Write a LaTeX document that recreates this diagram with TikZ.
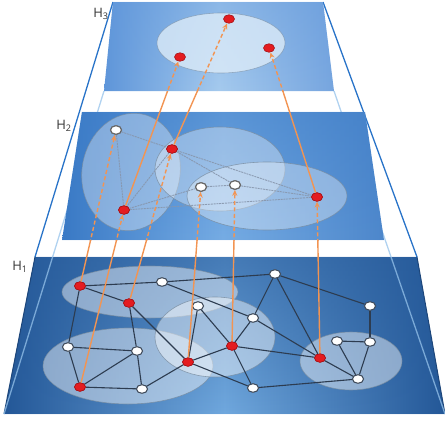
\documentclass[tikz,border=0pt]{standalone}
\usepackage{fontspec}
\setmainfont{Open Sans}
\usetikzlibrary{arrows.meta,calc,shapes.geometric,fadings}
\definecolor{orng}{RGB}{242,148,82}
\definecolor{edgedark}{RGB}{45,60,80}
\definecolor{edgelight}{RGB}{135,150,172}
\definecolor{hadark}{RGB}{36,88,152}
\definecolor{hamid}{RGB}{112,168,222}
\definecolor{hbdark}{RGB}{58,122,198}
\definecolor{hbmid}{RGB}{118,172,228}
\definecolor{hcdark}{RGB}{95,150,218}
\definecolor{hcmid}{RGB}{165,202,238}
\definecolor{framedark}{RGB}{40,115,200}
\definecolor{framelight}{RGB}{150,195,235}
\definecolor{nodered}{RGB}{228,28,32}
\definecolor{noderedd}{RGB}{165,20,25}
\definecolor{nodegray}{RGB}{60,72,88}
\definecolor{ellborder}{RGB}{120,140,160}
\tikzfading[name=fadedown, top color=transparent!0, bottom color=transparent!100]
\begin{document}
\begin{tikzpicture}[x=1pt,y=-1pt,
  rednode/.style={ellipse, inner sep=0pt, minimum width=11pt, minimum height=8.5pt, fill=nodered, draw=noderedd, line width=0.6pt},
  whitenode/.style={ellipse, inner sep=0pt, minimum width=11pt, minimum height=8.5pt, fill=white, draw=nodegray, line width=0.9pt},
  whitenodeb/.style={whitenode, draw=gray!80!black, line width=1.1pt},
  gedge/.style={draw=edgedark, line width=1.1pt},
  hedge/.style={draw=edgelight, line width=0.9pt, opacity=0.9, dash pattern=on 2pt off 0.8pt},
  cluster/.style={fill=white, fill opacity=0.45, draw=ellborder, draw opacity=0.8, line width=0.6pt},
  clusterb/.style={fill=white, fill opacity=0.35, draw=ellborder, draw opacity=0.8, line width=0.6pt},
  orngline/.style={draw=orng, line width=1.4pt},
  orngdashed/.style={draw=orng, line width=1.4pt, dash pattern=on 4pt off 2.5pt, -{Stealth[length=6pt,width=5pt]}},
  lab/.style={text=black!80, font=\fontsize{13}{15}\selectfont, inner sep=0pt},
  frameline/.style={line width=1.3pt}
]
\useasboundingbox (0,0) rectangle (445,421);
% plane corners
\coordinate (c3tl) at (113,2);  \coordinate (c3tr) at (323,2);
\coordinate (c3br) at (334,91); \coordinate (c3bl) at (104,91);
\coordinate (c2tl) at (82,112); \coordinate (c2tr) at (365,112);
\coordinate (c2br) at (384,240); \coordinate (c2bl) at (62,240);
\coordinate (c1tl) at (35,257); \coordinate (c1tr) at (417,257);
\coordinate (c1br) at (445,414); \coordinate (c1bl) at (4,414);
% frustum edges
\draw[frameline, framedark] (c3tl) -- (c1tl);
\draw[frameline, framedark] (c3tr) -- (c1tr);

% ---------------- H1 ----------------
\shade[left color=hadark, right color=hadark, middle color=hamid] (c1tl) -- (c1tr) -- (c1br) -- (c1bl) -- cycle;
\fill[hadark, opacity=0.55, path fading=fadedown] (c1tl) -- (c1tr) -- (c1br) -- (c1bl) -- cycle;
\draw[hadark!80!black, line width=1pt] (c1tl) -- (c1bl);
\draw[hadark!80!black, line width=1pt] (c1tr) -- (c1br);
\draw[white, opacity=0.5, line width=0.6pt] (c1bl) -- (c1br);
\draw[frameline, framelight, opacity=0.75] (c3bl) -- (c1bl);
\draw[frameline, framelight, opacity=0.75] (c3br) -- (c1br);
\draw[cluster] (150,292) ellipse (88 and 26);
\draw[cluster] (128,366) ellipse (85 and 38);
\draw[cluster] (215,337) ellipse (60 and 40);
\draw[cluster] (351,361) ellipse (51 and 29);
\node[lab] (l1) at (20,267) {H\textsubscript{1}};

\node[rednode]   (a1) at (80,286) {};
\node[whitenode] (b1) at (162,282) {};
\node[rednode]   (c1) at (129,303) {};
\node[whitenode] (d1) at (68,347) {};
\node[whitenode] (e1) at (137,351) {};
\node[rednode]   (f1) at (80,387) {};
\node[whitenode] (g1) at (142,389) {};
\node[rednode]   (h1) at (188,362) {};
\node[whitenode] (i1) at (198,306) {};
\node[whitenode] (j1) at (275,274) {};
\node[whitenode] (k1) at (253,318) {};
\node[rednode]   (l1n) at (232,346) {};
\node[whitenode] (m1) at (370,306) {};
\node[whitenode] (n1) at (337,341) {};
\node[whitenode] (o1) at (370,342) {};
\node[rednode]   (p1) at (320,358) {};
\node[whitenode] (q1) at (358,379) {};
\node[whitenode] (r1) at (253,388) {};
\foreach \u/\v in {a1/b1,a1/c1,a1/d1,b1/j1,b1/k1,c1/e1,c1/h1,d1/e1,d1/f1,e1/f1,e1/g1,f1/g1,g1/h1,
  h1/i1,h1/l1n,h1/r1,i1/l1n,k1/l1n,k1/j1,k1/p1,j1/p1,j1/m1,m1/o1,n1/o1,n1/q1,o1/q1,p1/q1,l1n/p1,l1n/r1,r1/q1}
  \draw[gedge] (\u) -- (\v);
% redraw nodes on top of edges
\foreach \n in {a1,c1,f1,h1,l1n,p1}
  \node[rednode] at (\n) {};
\foreach \n in {b1,d1,e1,g1,i1,j1,k1,m1,n1,o1,q1,r1}
  \node[whitenode] at (\n) {};

% ---------------- H2 ----------------
\shade[left color=hbdark, right color=hbdark!90!white, middle color=hbmid] (c2tl) -- (c2tr) -- (c2br) -- (c2bl) -- cycle;
\fill[hbdark, opacity=0.45, path fading=fadedown] (c2tl) -- (c2tr) -- (c2br) -- (c2bl) -- cycle;
\draw[white, opacity=0.5, line width=0.6pt] (c2bl) -- (c2br);
\draw[clusterb, rotate around={-10:(131,172)}] (131,172) ellipse (49 and 59);
\draw[clusterb] (220,169) ellipse (65 and 42);
\draw[clusterb] (267,196) ellipse (80 and 34);
\node[lab] (l2) at (64,126) {H\textsubscript{2}};

\node[whitenodeb] (w1) at (116,130) {};
\node[rednode]    (s1) at (172,149) {};
\node[rednode]    (s2) at (124,210) {};
\node[whitenodeb] (w2) at (201,187) {};
\node[whitenodeb] (w3) at (235,185) {};
\node[rednode]    (s3) at (317,197) {};
\foreach \u/\v in {w1/s2,w1/s1,s1/s3,s1/s2,s1/w3,s2/w2,s2/s3,w2/w3,w3/s3}
  \draw[hedge] (\u) -- (\v);
\foreach \n in {s1,s2,s3} \node[rednode] at (\n) {};
\foreach \n in {w1,w2,w3} \node[whitenodeb] at (\n) {};

% ---------------- H3 ----------------
\shade[left color=hcdark, right color=hcdark!85!white, middle color=hcmid] (c3tl) -- (c3tr) -- (c3br) -- (c3bl) -- cycle;
\fill[hcdark, opacity=0.35, path fading=fadedown] (c3tl) -- (c3tr) -- (c3br) -- (c3bl) -- cycle;
\draw[fill={rgb,255:red,220;green,235;blue,248}, fill opacity=0.8, draw=ellborder, draw opacity=0.6, line width=0.6pt] (221,43) ellipse (64 and 30);
\node[lab] (l3) at (101,14) {H\textsubscript{3}};
\node[rednode] (t1) at (229,19) {};
\node[rednode] (t2) at (180,57) {};
\node[rednode] (t3) at (269,48) {};

% ---------------- arrows H1 -> H2 ----------------
\begin{scope}
  \clip (0,240) rectangle (445,421);
  \foreach \u/\v in {a1/w1,f1/s2,c1/s1,h1/w2,l1n/w3,p1/s3}
    \draw[orngline] (\u) -- (\v);
\end{scope}
\begin{scope}
  \clip (0,0) rectangle (445,240);
  \foreach \u/\v in {a1/w1,f1/s2,c1/s1,h1/w2,l1n/w3,p1/s3}
    \draw[orngdashed] (\u) -- (\v);
\end{scope}
% ---------------- arrows H2 -> H3 ----------------
\begin{scope}
  \clip (0,91) rectangle (445,421);
  \foreach \u/\v in {s2/t2,s1/t1,s3/t3}
    \draw[orngline] (\u) -- (\v);
\end{scope}
\begin{scope}
  \clip (0,0) rectangle (445,91);
  \foreach \u/\v in {s2/t2,s1/t1,s3/t3}
    \draw[orngdashed] (\u) -- (\v);
\end{scope}
\end{tikzpicture}
\end{document}
